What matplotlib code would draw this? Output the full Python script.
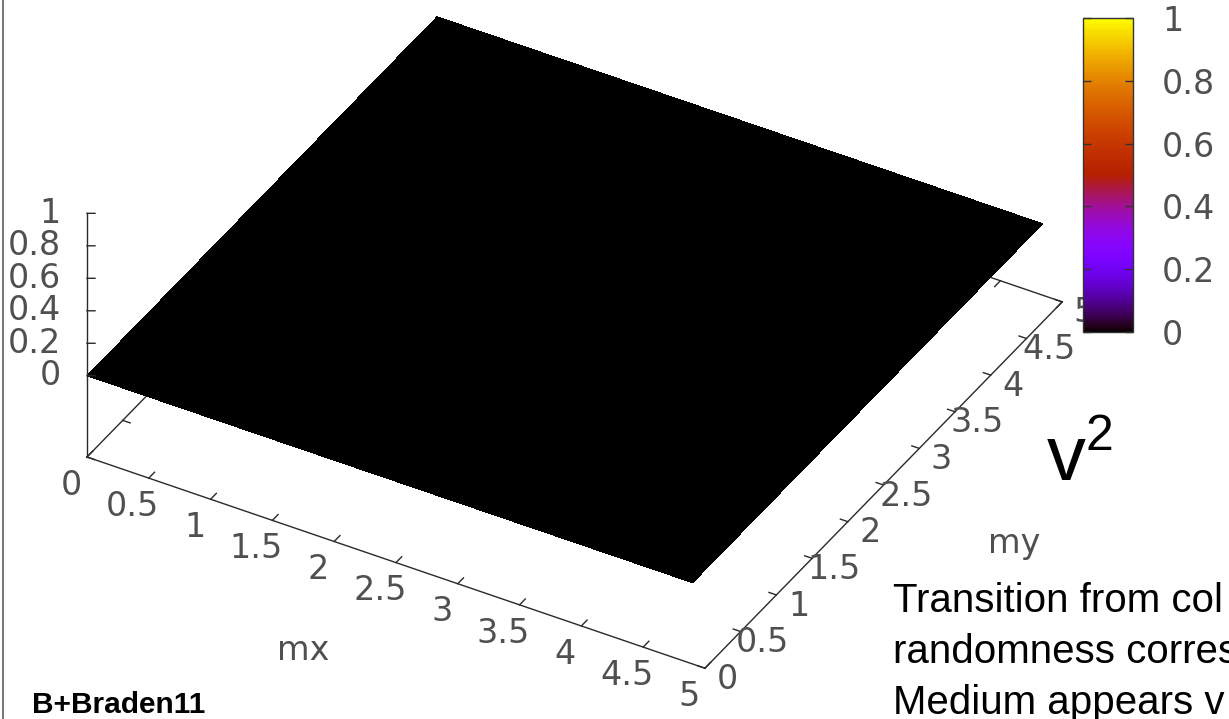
import numpy as np
import matplotlib
matplotlib.use("Agg")
import matplotlib.pyplot as plt
from matplotlib import cm, colors
from matplotlib.lines import Line2D
from mpl_toolkits.mplot3d import proj3d

# (mx, my) mode grid and the v^2 values measured on it
mx = np.round(np.arange(0.0, 4.95, 0.1), 1)
my = np.round(np.arange(0.0, 4.95, 0.1), 1)
v2 = np.zeros((len(my), len(mx)))

x_ticks = [0, 0.5, 1, 1.5, 2, 2.5, 3, 3.5, 4, 4.5, 5]
y_ticks = [0, 0.5, 1, 1.5, 2, 2.5, 3, 3.5, 4, 4.5, 5]
z_ticks = [0, 0.2, 0.4, 0.6, 0.8, 1]
cb_ticks = [0, 0.2, 0.4, 0.6, 0.8, 1]


def fmt(v):
    return f"{v:g}"


W, H = 1229, 719
fig = plt.figure(figsize=(W / 100, H / 100), dpi=100)
fig.patch.set_facecolor("white")

S = 900
ax = fig.add_axes([(600 - S / 2) / W, (360 - S / 2) / H, S / W, S / H],
                  projection="3d", computed_zorder=False)
ax.set_proj_type("ortho")
ax.view_init(elev=36.3, azim=-60)
ax.set_xlim(0, 5)
ax.set_ylim(0, 5)
zbase = -0.5
ax.set_zlim(zbase, 1)
ax.set_box_aspect((715, 716, 303))
ax.set_axis_off()

norm = colors.Normalize(0, 1)
cmap = plt.get_cmap("gnuplot")

MX, MY = np.meshgrid(mx, my)
ax.plot_surface(MX, MY, v2, facecolors=cmap(norm(v2)), shade=False,
                linewidth=0, antialiased=False, rstride=1, cstride=1, zorder=2)

# base plane border and z axis
lc = "#2a2a2a"
lw = 1.0
ax.plot([0, 5], [0, 0], [zbase, zbase], color=lc, lw=lw, zorder=1)
ax.plot([5, 5], [0, 5], [zbase, zbase], color=lc, lw=lw, zorder=1)
ax.plot([5, 0], [5, 5], [zbase, zbase], color=lc, lw=lw, zorder=1)
ax.plot([0, 0], [5, 0], [zbase, zbase], color=lc, lw=lw, zorder=1)
ax.plot([0, 0], [0, 0], [zbase, 1], color=lc, lw=lw, zorder=3)

# tick marks (with mirrors on the far edges)
for t in x_ticks:
    ax.plot([t, t], [0, 0.08], [zbase, zbase], color=lc, lw=lw, zorder=1)
    ax.plot([t, t], [5, 4.92], [zbase, zbase], color=lc, lw=lw, zorder=1)
for t in y_ticks:
    ax.plot([5, 4.94], [t, t], [zbase, zbase], color=lc, lw=lw, zorder=1)
    ax.plot([0, 0.06], [t, t], [zbase, zbase], color=lc, lw=lw, zorder=1)
for t in z_ticks:
    ax.plot([0, 0.0486], [0, 0.0279], [t, t], color=lc, lw=lw, zorder=3)

tick_font = dict(family="DejaVu Sans", size=24, color="#505050")
for t in x_ticks:
    ax.text(t + 0.07, -0.345, zbase, fmt(t), ha="center", va="center",
            zorder=4, **tick_font)
for t in y_ticks:
    ax.text(5.2, t - 0.036, zbase, fmt(t), ha="center", va="center",
            zorder=4, **tick_font)
for t in z_ticks:
    ax.text(-0.16, -0.092, t, fmt(t), ha="right", va="center",
            zorder=4, **tick_font)

ax.text(2.455, -1.22, zbase, "mx", ha="center", va="center", zorder=4,
        **tick_font)
ax.text(6.14, 2.36, zbase, "my", ha="center", va="center", zorder=4,
        **tick_font)

# place the plot box: front corners (0,0) and (5,0) of the base plane
fig.canvas.draw()


def to_px(x, y, z):
    xs, ys, _ = proj3d.proj_transform(x, y, z, ax.get_proj())
    return np.asarray(ax.transData.transform((xs, ys)))


p0 = to_px(0, 0, zbase)
p1 = to_px(5, 0, zbase)
t0 = np.array([87.0, H - 457.0])
t1 = np.array([705.0, H - 668.0])
scale = np.linalg.norm(t1 - t0) / np.linalg.norm(p1 - p0)
bb = ax.get_position()
c = np.array([(bb.x0 + bb.x1) / 2 * W, (bb.y0 + bb.y1) / 2 * H])
side = bb.width * W * scale
c_new = t0 - scale * (p0 - c)
ax.set_position([(c_new[0] - side / 2) / W, (c_new[1] - side / 2) / H,
                 side / W, side / H])

# colour bar
cax = fig.add_axes([1083 / W, 1 - 332 / H, 50 / W, 314 / H])
sm = cm.ScalarMappable(norm=norm, cmap=cmap)
cb = fig.colorbar(sm, cax=cax, ticks=cb_ticks)
cb.ax.set_yticklabels([fmt(t) for t in cb_ticks])
cax.tick_params(direction="in", left=True, right=True, length=6, width=1,
                color="#333333", pad=21)
for lab in cax.get_yticklabels():
    lab.set_fontfamily("DejaVu Sans")
    lab.set_fontsize(24)
    lab.set_color("#505050")
cb.outline.set_edgecolor("#333333")
cb.outline.set_linewidth(1.0)

# slide text
sans = "Liberation Sans"
fig.text(1047 / W, 1 - 480 / H, "v", family=sans, size=56,
         color="black", ha="left", va="baseline")
fig.text(1086 / W, 1 - 450 / H, "2", family=sans, size=36,
         color="black", ha="left", va="baseline")
body = ["Transition from col", "randomness corres", "Medium appears v"]
for i, line in enumerate(body):
    fig.text(893 / W, 1 - (612 + 51 * i) / H, line, family=sans,
             size=29, color="black", ha="left", va="baseline")
fig.text(32 / W, 1 - 713 / H, "B+Braden11", family=sans,
         size=21.5, weight="bold", color="black",
         ha="left", va="baseline")

fig.add_artist(Line2D([2.5 / W, 2.5 / W], [0, 1], color="#7a7a7a", lw=1.5))

fig.savefig("out.png", dpi=100)
